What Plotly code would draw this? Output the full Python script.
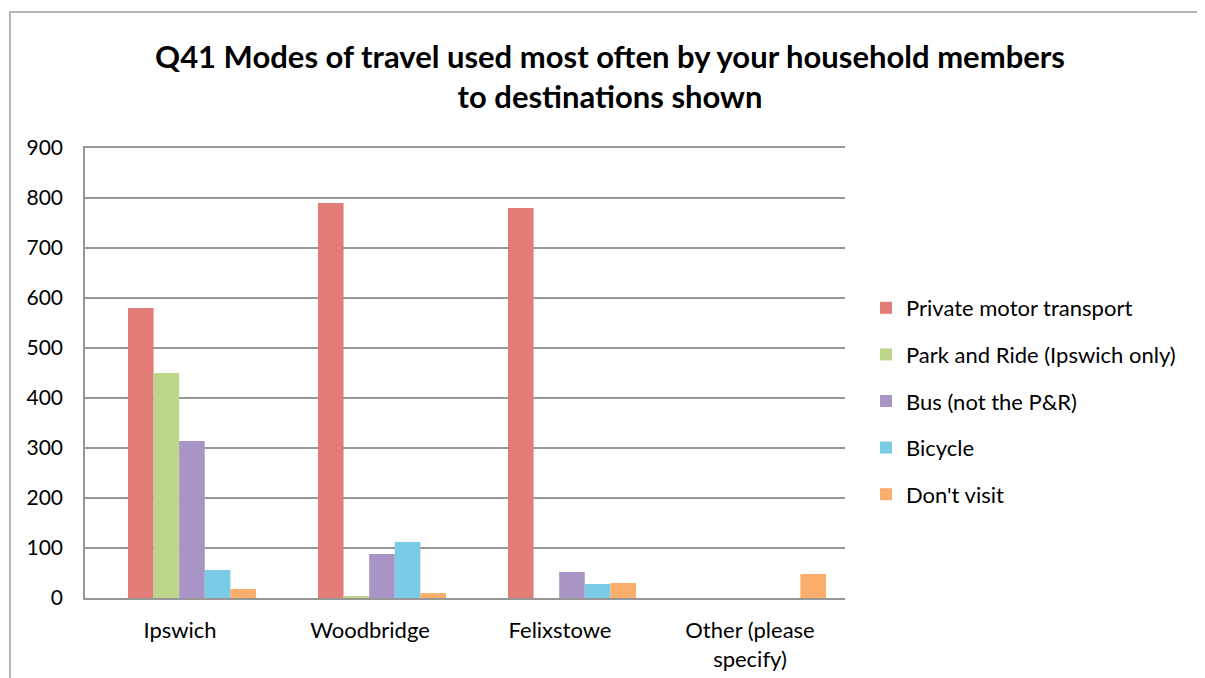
import plotly.graph_objects as go

categories = ["Ipswich", "Woodbridge", "Felixstowe", "Other (please<br>specify)"]
series_names = ["Private motor transport", "Park and Ride (Ipswich only)",
                "Bus (not the P&R)", "Bicycle", "Don't visit"]
private_motor = [580, 790, 780, 0]
park_and_ride = [450, 3, 0, 0]
bus = [314, 88, 52, 0]
bicycle = [56, 112, 28, 0]
dont_visit = [18, 10, 30, 48]
series_values = [private_motor, park_and_ride, bus, bicycle, dont_visit]
colors = ["#E27C76", "#BDD689", "#A994C6", "#79CCE3", "#FAAE6C"]

# page is offset by 8px body margin
OFF = 8
W, H = 1205 - OFF, 678 - OFF
L, T = 85 - OFF, 148 - OFF
pw, ph = 760, 450
R, B = W - L - pw, H - T - ph
bottom = T + ph  # fig px of y=0

n = len(series_names)
bar_w = 0.1347
group_shift = 0.063
start = -bar_w * n / 2 + group_shift

fig = go.Figure()
for i, (name, vals) in enumerate(zip(series_names, series_values)):
    fig.add_trace(go.Bar(
        x=categories, y=vals, name=name, legendgroup=f"g{i}",
        width=bar_w, offset=start + i * bar_w,
        marker=dict(color=colors[i], line=dict(width=0)),
    ))

font_family = "Lato"
fig.update_layout(
    width=W, height=H,
    margin=dict(l=L, r=R, t=T, b=B, autoexpand=False),
    paper_bgcolor="white", plot_bgcolor="white",
    barmode="group", bargap=0.33, bargroupgap=0,
    font=dict(family=font_family, size=22, color="black"),
    title=dict(
        text="<b>Q41 Modes of travel used most often by your household members<br>to destinations shown</b>",
        x=(610 - OFF) / W, xanchor="center", y=1 - 60 / H, yanchor="top",
        font=dict(family=font_family, size=31, color="black"),
    ),
    legend=dict(
        x=(866 - OFF - L) / pw, xanchor="left", y=(bottom - (287 - OFF)) / ph, yanchor="top",
        font=dict(size=22), tracegroupgap=15, itemwidth=30,
        bgcolor="rgba(0,0,0,0)",
    ),
    showlegend=True,
)
fig.update_yaxes(
    range=[0, 900], dtick=100, showgrid=True, gridcolor="#979797", gridwidth=1.5,
    showline=True, linecolor="#979797", linewidth=1.5, zeroline=False,
    ticks="", ticklabelstandoff=16, tickfont=dict(size=21), automargin=False,
)
fig.update_xaxes(
    showline=True, mirror=True, linecolor="#979797", linewidth=1.5, ticks="",
    ticklabelstandoff=12, tickfont=dict(size=22), automargin=False,
)
# chart frame
fig.add_shape(type="rect", xref="paper", yref="paper",
              x0=(10 - OFF - L) / pw, x1=(1300 - L) / pw,
              y0=(bottom - 800) / ph, y1=(bottom - (12 - OFF)) / ph,
              line=dict(color="#A0A0A0", width=1.5), fillcolor="rgba(0,0,0,0)", layer="below")

fig.write_html("out.html")
